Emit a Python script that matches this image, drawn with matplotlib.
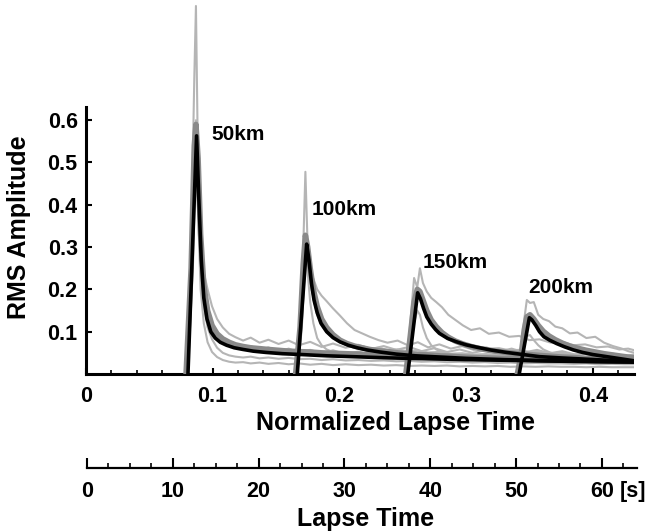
import matplotlib.pyplot as plt
from matplotlib.ticker import MultipleLocator
from matplotlib.transforms import ScaledTranslation

# --- data (normalized lapse time vs RMS amplitude) ---

# 50 km: observed traces (light gray), mean (dark gray)
t50 = [0.0790, 0.0830, 0.0855, 0.0868, 0.0885, 0.0905, 0.0930, 0.0960, 0.0995, 0.1035,
       0.108, 0.113, 0.118, 0.124, 0.130, 0.137, 0.144, 0.152, 0.160, 0.168,
       0.177, 0.186, 0.195, 0.205, 0.215, 0.225, 0.235, 0.245, 0.255, 0.265,
       0.275, 0.285, 0.295, 0.305, 0.315, 0.325, 0.335, 0.345, 0.355, 0.365,
       0.375, 0.385, 0.395, 0.405, 0.415, 0.425, 0.433]
obs50_a = [0.000, 0.300, 0.700, 0.870, 0.480, 0.300, 0.240, 0.200, 0.160, 0.130,
           0.110, 0.095, 0.087, 0.079, 0.086, 0.074, 0.081, 0.071, 0.079, 0.068,
           0.076, 0.064, 0.072, 0.062, 0.069, 0.059, 0.066, 0.057, 0.064, 0.054,
           0.061, 0.052, 0.058, 0.050, 0.056, 0.048, 0.054, 0.046, 0.052, 0.044,
           0.049, 0.043, 0.048, 0.041, 0.046, 0.040, 0.043]
obs50_b = [0.000, 0.260, 0.520, 0.600, 0.520, 0.340, 0.210, 0.150, 0.118, 0.095,
           0.080, 0.072, 0.066, 0.060, 0.066, 0.056, 0.063, 0.053, 0.060, 0.051,
           0.057, 0.049, 0.056, 0.047, 0.053, 0.045, 0.052, 0.043, 0.049, 0.042,
           0.047, 0.040, 0.046, 0.039, 0.044, 0.038, 0.043, 0.036, 0.041, 0.035,
           0.040, 0.034, 0.038, 0.033, 0.037, 0.032, 0.034]
obs50_c = [0.000, 0.220, 0.480, 0.560, 0.430, 0.240, 0.160, 0.110, 0.082, 0.062,
           0.050, 0.044, 0.041, 0.039, 0.041, 0.037, 0.039, 0.036, 0.038, 0.035,
           0.036, 0.033, 0.035, 0.032, 0.033, 0.031, 0.032, 0.030, 0.031, 0.029,
           0.030, 0.028, 0.029, 0.027, 0.028, 0.026, 0.027, 0.025, 0.026, 0.025,
           0.025, 0.024, 0.025, 0.023, 0.024, 0.023, 0.023]
obs50_d = [0.000, 0.200, 0.450, 0.520, 0.380, 0.200, 0.120, 0.075, 0.052, 0.040,
           0.033, 0.029, 0.027, 0.028, 0.025, 0.027, 0.024, 0.026, 0.023, 0.025,
           0.022, 0.024, 0.021, 0.023, 0.021, 0.022, 0.020, 0.021, 0.019, 0.020,
           0.019, 0.020, 0.018, 0.019, 0.018, 0.019, 0.017, 0.018, 0.017, 0.018,
           0.017, 0.017, 0.016, 0.017, 0.016, 0.016, 0.016]
mean50 = [0.000, 0.250, 0.540, 0.590, 0.510, 0.330, 0.210, 0.150, 0.115, 0.095,
          0.083, 0.075, 0.069, 0.065, 0.062, 0.060, 0.058, 0.056, 0.054, 0.053,
          0.052, 0.050, 0.049, 0.048, 0.047, 0.045, 0.044, 0.043, 0.042, 0.041,
          0.040, 0.039, 0.039, 0.038, 0.037, 0.036, 0.036, 0.035, 0.034, 0.034,
          0.033, 0.033, 0.032, 0.032, 0.031, 0.031, 0.031]

# 100 km
t100 = [0.1655, 0.1690, 0.1715, 0.1732, 0.1750, 0.1770, 0.1795, 0.1825, 0.1860, 0.1900,
        0.1950, 0.2005, 0.206, 0.212, 0.218, 0.224, 0.231, 0.238, 0.246, 0.254,
        0.262, 0.270, 0.279, 0.288, 0.297, 0.306, 0.316, 0.326, 0.336, 0.346,
        0.356, 0.366, 0.376, 0.386, 0.396, 0.406, 0.416, 0.425, 0.433]
obs100_a = [0.000, 0.120, 0.300, 0.478, 0.300, 0.240, 0.225, 0.200, 0.185, 0.172,
            0.155, 0.138, 0.120, 0.104, 0.096, 0.088, 0.080, 0.074, 0.079, 0.068,
            0.075, 0.063, 0.070, 0.060, 0.066, 0.057, 0.063, 0.053, 0.060, 0.051,
            0.057, 0.049, 0.054, 0.046, 0.051, 0.044, 0.048, 0.043, 0.046]
obs100_b = [0.000, 0.100, 0.240, 0.330, 0.300, 0.240, 0.180, 0.140, 0.115, 0.098,
            0.085, 0.075, 0.070, 0.064, 0.066, 0.060, 0.062, 0.057, 0.058, 0.054,
            0.055, 0.051, 0.052, 0.048, 0.049, 0.046, 0.047, 0.044, 0.045, 0.042,
            0.043, 0.041, 0.042, 0.039, 0.040, 0.038, 0.039, 0.037, 0.037]
obs100_c = [0.000, 0.090, 0.220, 0.300, 0.240, 0.170, 0.120, 0.085, 0.068, 0.058,
            0.052, 0.047, 0.044, 0.046, 0.041, 0.043, 0.039, 0.041, 0.037, 0.038,
            0.035, 0.036, 0.034, 0.035, 0.032, 0.033, 0.031, 0.032, 0.030, 0.031,
            0.029, 0.030, 0.028, 0.029, 0.027, 0.028, 0.027, 0.027, 0.026]
mean100 = [0.000, 0.110, 0.260, 0.328, 0.300, 0.250, 0.200, 0.160, 0.130, 0.110,
           0.093, 0.080, 0.072, 0.066, 0.062, 0.058, 0.055, 0.053, 0.050, 0.048,
           0.046, 0.045, 0.043, 0.042, 0.040, 0.039, 0.038, 0.037, 0.036, 0.035,
           0.034, 0.034, 0.033, 0.032, 0.032, 0.031, 0.031, 0.030, 0.030]

# 150 km
t150 = [0.2525, 0.2560, 0.2590, 0.2615, 0.2636, 0.2660, 0.2690, 0.2725, 0.2765, 0.2810,
        0.2860, 0.2915, 0.2975, 0.304, 0.311, 0.318, 0.326, 0.334, 0.342, 0.350,
        0.358, 0.367, 0.376, 0.385, 0.394, 0.403, 0.412, 0.421, 0.428, 0.433]
obs150_a = [0.000, 0.120, 0.227, 0.205, 0.250, 0.215, 0.195, 0.180, 0.170, 0.158,
            0.140, 0.128, 0.115, 0.104, 0.108, 0.095, 0.098, 0.088, 0.090, 0.080,
            0.082, 0.074, 0.076, 0.068, 0.070, 0.063, 0.065, 0.058, 0.060, 0.056]
obs150_b = [0.000, 0.090, 0.170, 0.205, 0.200, 0.180, 0.150, 0.125, 0.108, 0.095,
            0.085, 0.078, 0.072, 0.068, 0.064, 0.060, 0.061, 0.056, 0.057, 0.052,
            0.053, 0.049, 0.050, 0.046, 0.047, 0.044, 0.045, 0.042, 0.042, 0.041]
obs150_c = [0.000, 0.060, 0.120, 0.150, 0.140, 0.110, 0.085, 0.068, 0.058, 0.052,
            0.048, 0.045, 0.046, 0.042, 0.043, 0.040, 0.041, 0.038, 0.039, 0.036,
            0.037, 0.035, 0.035, 0.033, 0.034, 0.032, 0.032, 0.031, 0.031, 0.030]
mean150 = [0.000, 0.090, 0.170, 0.200, 0.195, 0.175, 0.150, 0.128, 0.112, 0.098,
           0.087, 0.078, 0.071, 0.065, 0.060, 0.056, 0.053, 0.050, 0.048, 0.046,
           0.044, 0.042, 0.040, 0.039, 0.037, 0.036, 0.035, 0.034, 0.033, 0.033]

# 200 km
t200 = [0.3405, 0.3435, 0.3460, 0.3480, 0.3505, 0.3535, 0.3570, 0.3610, 0.3655, 0.3705,
        0.376, 0.382, 0.388, 0.395, 0.402, 0.409, 0.416, 0.423, 0.428, 0.433]
obs200_a = [0.000, 0.060, 0.130, 0.175, 0.168, 0.170, 0.140, 0.130, 0.125, 0.112,
            0.108, 0.096, 0.098, 0.085, 0.088, 0.074, 0.066, 0.060, 0.054, 0.050]
obs200_b = [0.000, 0.040, 0.100, 0.135, 0.140, 0.128, 0.112, 0.098, 0.088, 0.080,
            0.072, 0.066, 0.062, 0.057, 0.053, 0.050, 0.046, 0.043, 0.041, 0.039]
obs200_c = [0.000, 0.030, 0.070, 0.090, 0.092, 0.080, 0.068, 0.058, 0.052, 0.047,
            0.045, 0.042, 0.040, 0.038, 0.037, 0.035, 0.034, 0.033, 0.032, 0.031]
mean200 = [0.000, 0.045, 0.105, 0.135, 0.140, 0.130, 0.115, 0.101, 0.090, 0.081,
           0.073, 0.066, 0.061, 0.056, 0.052, 0.048, 0.045, 0.042, 0.040, 0.038]

# model curves (black)
fit50_t = [0.0805, 0.0873, 0.0890, 0.0910, 0.0930, 0.0955, 0.0985, 0.1020, 0.106, 0.111,
           0.117, 0.124, 0.132, 0.142, 0.155, 0.17, 0.19, 0.21, 0.24, 0.27,
           0.30, 0.34, 0.38, 0.433]
fit50_a = [0.000, 0.563, 0.420, 0.270, 0.180, 0.130, 0.100, 0.085, 0.075, 0.068,
           0.062, 0.058, 0.054, 0.051, 0.048, 0.046, 0.043, 0.041, 0.038, 0.036,
           0.034, 0.032, 0.030, 0.028]
fit100_t = [0.1668, 0.1742, 0.1760, 0.1780, 0.1800, 0.1825, 0.1855, 0.190, 0.195, 0.2005,
            0.207, 0.214, 0.2215, 0.232, 0.245, 0.26, 0.28, 0.30, 0.33, 0.36,
            0.40, 0.433]
fit100_a = [0.000, 0.307, 0.270, 0.214, 0.175, 0.145, 0.120, 0.100, 0.086, 0.076,
            0.068, 0.062, 0.057, 0.052, 0.047, 0.043, 0.040, 0.037, 0.034, 0.032,
            0.030, 0.029]
fit150_t = [0.254, 0.2618, 0.2640, 0.2665, 0.269, 0.2725, 0.276, 0.279, 0.2855, 0.2926,
            0.300, 0.309, 0.319, 0.332, 0.345, 0.358, 0.375, 0.395, 0.415, 0.433]
fit150_a = [0.000, 0.192, 0.178, 0.155, 0.135, 0.118, 0.105, 0.096, 0.084, 0.076,
            0.069, 0.063, 0.057, 0.051, 0.046, 0.041, 0.038, 0.035, 0.032, 0.030]
fit200_t = [0.342, 0.350, 0.352, 0.355, 0.358, 0.3615, 0.366, 0.3715, 0.378, 0.3846,
            0.392, 0.400, 0.411, 0.422, 0.433]
fit200_a = [0.000, 0.133, 0.128, 0.115, 0.100, 0.088, 0.080, 0.072, 0.064, 0.057,
            0.051, 0.046, 0.041, 0.036, 0.031]

x_ticks = [0, 0.1, 0.2, 0.3, 0.4]
x_ticklabels = ['0', '0.1', '0.2', '0.3', '0.4']
y_ticks = [0.1, 0.2, 0.3, 0.4, 0.5, 0.6]
y_ticklabels = ['0.1', '0.2', '0.3', '0.4', '0.5', '0.6']
s_ticks = [0, 10, 20, 30, 40, 50, 60]
s_ticklabels = ['0', '10', '20', '30', '40', '50', '60']

# --- plot ---
plt.rcParams['font.family'] = ['Liberation Sans', 'DejaVu Sans']
plt.rcParams['font.weight'] = 'bold'

light = '#b5b5b5'
dark = '#8a8a8a'

fig = plt.figure(figsize=(6.47, 5.32), dpi=100)
ax = fig.add_axes([0.1329, 0.2970, 0.8470, 0.6997])

groups = [
    (t50, [obs50_a, obs50_b, obs50_c, obs50_d], mean50),
    (t100, [obs100_a, obs100_b, obs100_c], mean100),
    (t150, [obs150_a, obs150_b, obs150_c], mean150),
    (t200, [obs200_a, obs200_b, obs200_c], mean200),
]
for t, traces, mean in groups:
    for tr in traces:
        ax.plot(t, tr, color=light, lw=1.5, zorder=2)
for t, traces, mean in groups:
    ax.plot(t, mean, color=dark, lw=4, zorder=3)

for t, a in [(fit50_t, fit50_a), (fit100_t, fit100_a), (fit150_t, fit150_a), (fit200_t, fit200_a)]:
    ax.plot(t, a, color='black', lw=2.6, zorder=4)

ax.set_xlim(0, 0.4326)
ax.set_ylim(0, 0.88)
ax.spines['top'].set_visible(False)
ax.spines['right'].set_visible(False)
ax.spines['left'].set_bounds(0, 0.631)
ax.spines['left'].set_linewidth(2.2)
ax.spines['bottom'].set_linewidth(2.2)
ax.patch.set_visible(False)

ax.set_xticks(x_ticks)
ax.set_xticklabels(x_ticklabels)
ax.xaxis.set_minor_locator(MultipleLocator(0.02))
ax.set_yticks(y_ticks)
ax.set_yticklabels(y_ticklabels)
ax.tick_params(axis='both', direction='in', length=4, width=1.5, labelsize=15.5)
ax.tick_params(axis='x', pad=9)
ax.tick_params(axis='y', pad=6)
ax.tick_params(which='minor', direction='in', length=3, width=1.2)

# distance labels
fig.text(0.3272, 0.7368, '50km', fontsize=15, fontweight='bold')
fig.text(0.4822, 0.5959, '100km', fontsize=15, fontweight='bold')
fig.text(0.6538, 0.4962, '150km', fontsize=15, fontweight='bold')
fig.text(0.8161, 0.4492, '200km', fontsize=15, fontweight='bold')

fig.text(0.0294, 0.5724, 'RMS Amplitude', rotation=90, fontsize=18, fontweight='bold',
         ha='center', va='center')
fig.text(0.6113, 0.1917, 'Normalized Lapse Time', fontsize=18, fontweight='bold',
         ha='center', va='baseline')

# second axis: lapse time in seconds
ax2 = fig.add_axes([0.1345, 0.1203, 0.8501, 0.05])
ax2.patch.set_visible(False)
for side in ['top', 'right', 'left']:
    ax2.spines[side].set_visible(False)
ax2.spines['bottom'].set_linewidth(1.6)
ax2.set_xlim(0, 64.1)
ax2.set_yticks([])
ax2.set_xticks(s_ticks)
ax2.set_xticklabels(s_ticklabels)
ax2.xaxis.set_minor_locator(MultipleLocator(2.5))
ax2.tick_params(axis='x', direction='in', length=7, width=1.5, labelsize=15.5, pad=9)
ax2.tick_params(axis='x', which='minor', direction='in', length=3.5, width=1.2)
shift = ScaledTranslation(0, -9 / 72, fig.dpi_scale_trans)
ax2.text(62.1, 0, '[s]', transform=ax2.get_xaxis_transform() + shift,
         fontsize=15.5, fontweight='bold', ha='left', va='top')

fig.text(0.5657, 0.0113, 'Lapse Time', fontsize=18, fontweight='bold',
         ha='center', va='baseline')

plt.savefig('out.png', dpi=100)
